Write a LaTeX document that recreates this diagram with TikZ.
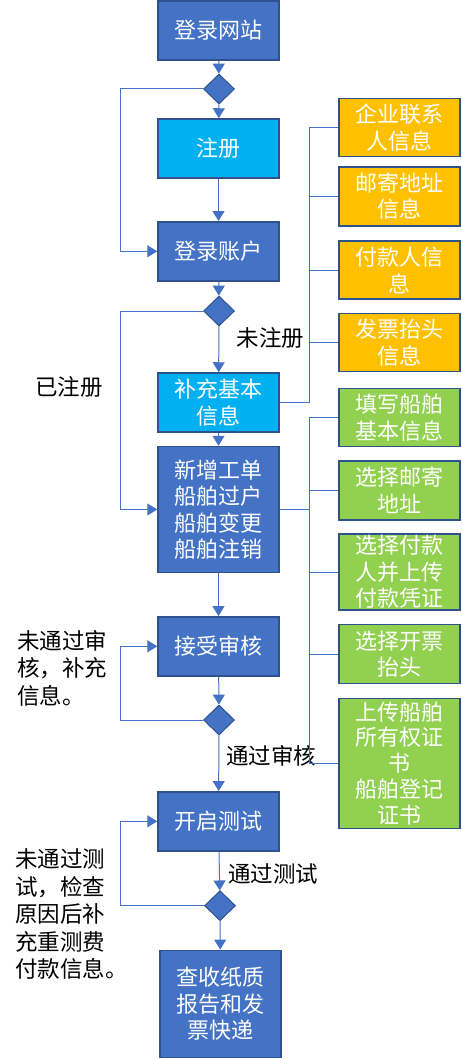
\documentclass[tikz,border=0pt]{standalone}
\usepackage{fontspec}
\setmainfont{Noto Sans CJK SC}
\usepackage{tikz}
\usetikzlibrary{shapes.geometric,arrows.meta,positioning}
\definecolor{flowblue}{HTML}{4472C4}
\definecolor{edgeblue}{HTML}{2F528F}
\definecolor{skyblue}{HTML}{00B0F0}
\definecolor{amber}{HTML}{FFC000}
\definecolor{leaf}{HTML}{92D050}
\tikzset{
    box/.style={draw=edgeblue, line width=1.5pt, minimum width=121pt, inner sep=0pt,
        text=white, align=center, font=\fontsize{22}{26.5}\selectfont},
    mainbox/.style={box, fill=flowblue},
    skybox/.style={box, fill=skyblue},
    amberbox/.style={box, fill=amber},
    leafbox/.style={box, fill=leaf},
    decision/.style={diamond, draw=edgeblue, line width=1pt, fill=flowblue, inner sep=0pt,
        minimum width=31pt, minimum height=30pt},
    flow/.style={draw=flowblue, line width=1pt, -{Triangle[width=12pt,length=10pt]}},
    bus/.style={draw=flowblue, line width=1pt},
    note/.style={font=\fontsize{22.5}{27.5}\selectfont, inner sep=0pt}
}

\begin{document}
\begin{tikzpicture}[x=1pt,y=-1pt]
    \useasboundingbox (0,0) rectangle (461,1059);

    % main column
    \node[mainbox, minimum height=59pt] (web) at (218.5,30.5) {登录网站};
    \node[decision] (d1) at (219,89) {};
    \node[skybox, minimum height=59pt] (reg) at (218.5,148.5) {注册};
    \node[mainbox, minimum height=59pt] (login) at (218.5,251.3) {登录账户};
    \node[decision] (d2) at (219,311) {};
    \node[skybox, minimum height=59pt] (fill) at (218.5,402.5) {补充基本\\信息};
    \node[mainbox, minimum height=126pt] (order) at (218.5,509.5) {新增工单\\船舶过户\\船舶变更\\船舶注销};
    \node[mainbox, minimum height=59pt] (review) at (218.5,646.3) {接受审核};
    \node[decision] (d3) at (219,720) {};
    \node[mainbox, minimum height=59pt] (test) at (218.5,821.3) {开启测试};
    \node[decision] (d4) at (220,905.7) {};
    \node[mainbox, minimum height=107pt] (report) at (220.5,1003.8) {查收纸质\\报告和发\\票快递};

    % info boxes
    \node[amberbox, minimum height=58pt] (o1) at (399.3,127.5) {企业联系\\人信息};
    \node[amberbox, minimum height=59pt] (o2) at (399.3,196.3) {邮寄地址\\信息};
    \node[amberbox, minimum height=58pt] (o3) at (399.3,270.2) {付款人信\\息};
    \node[amberbox, minimum height=58pt] (o4) at (399.3,342.5) {发票抬头\\信息};
    \node[leafbox, minimum height=58pt] (g1) at (399.3,417.5) {填写船舶\\基本信息};
    \node[leafbox, minimum height=59pt] (g2) at (399.3,490.5) {选择邮寄\\地址};
    \node[leafbox, minimum height=76pt] (g3) at (399.3,572) {选择付款\\人并上传\\付款凭证};
    \node[leafbox, minimum height=59pt] (g4) at (399.3,654) {选择开票\\抬头};
    \node[leafbox, minimum height=130pt, font=\fontsize{22}{25.8}\selectfont] (g5) at (399.3,763.3) {上传船舶\\所有权证\\书\\船舶登记\\证书};

    % labels
    \node[note] (noreg) at (270.5,338) {未注册};
    \node[note] (hasreg) at (69,387) {已注册};
    \node[note, anchor=west, align=left] (revfail) at (17,668) {未通过审\\核，补充\\信息。};
    \node[note] (revpass) at (271,756) {通过审核};
    \node[note] (testpass) at (273,874) {通过测试};
    \node[note, anchor=west, align=left] (testfail) at (15,914) {未通过测\\试，检查\\原因后补\\充重测费\\付款信息。};

    % main flow
    \draw[flow] (web) -- (d1);
    \draw[flow] (d1) -- (reg);
    \draw[flow] (reg) -- (login);
    \draw[flow] (login) -- (d2);
    \draw[flow] (d2) -- (fill);
    \draw[flow] (fill) -- (order);
    \draw[flow] (order) -- (review);
    \draw[flow] (review) -- (d3);
    \draw[flow] (d3) -- (test);
    \draw[flow] (test) -- (d4);
    \draw[flow] (d4) -- (report);

    % loops on the left
    \draw[flow] (d1.west) -- ++(-83,0) |- (login.west);
    \draw[flow] (d2.west) -- ++(-83,0) |- (order.west);
    \draw[flow] (d3.west) -- ++(-83,0) |- (review.west);
    \draw[flow] (d4.west) -- ++(-84,0) |- (test.west);

    % buses on the right
    \foreach \b in {o1,o2,o3,o4}
        \draw[bus] (fill.east) -- ++(30,0) |- (\b.west);
    \foreach \b in {g1,g2,g3,g4,g5}
        \draw[bus] (order.east) -- ++(30,0) |- (\b.west);
\end{tikzpicture}
\end{document}
